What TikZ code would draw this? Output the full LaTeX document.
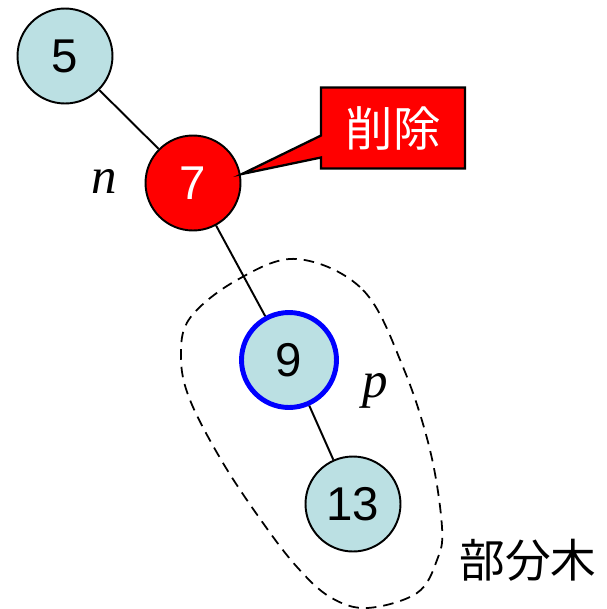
\documentclass[tikz,border=0pt]{standalone}
\usepackage{fontspec}
\setmainfont{Liberation Serif}
\setsansfont{Liberation Sans}
\newfontfamily\jpfont{Noto Sans CJK JP}
\usetikzlibrary{shapes.callouts}
\definecolor{nodeblue}{RGB}{187,224,227}
\tikzset{
  tnode/.style={circle, draw=black, line width=1.1pt, fill=nodeblue,
    minimum size=1.9cm, inner sep=0pt, font=\sffamily\fontsize{27}{30}\selectfont},
  delnode/.style={tnode, fill=red, text=white},
  curnode/.style={tnode, draw=blue, line width=2.8pt},
  edge/.style={line width=1.1pt},
  varlabel/.style={font=\itshape\fontsize{29}{32}\selectfont}
}
\begin{document}
\begin{tikzpicture}[x=0.02cm, y=-0.02cm]
  \useasboundingbox (0,0) rectangle (606,609);
  % tree nodes
  \node[tnode] (n5) at (65,56) {5};
  \node[delnode] (n7) at (193,183) {7};
  \node[curnode] (n9) at (289,360) {9};
  \node[tnode] (n13) at (353,504) {13};
  \draw[edge] (n5) -- (n7);
  \draw[edge] (n7) -- (n9);
  \draw[edge] (n9) -- (n13);
  % labels
  \node[varlabel] (lbln) at (104,181) {n};
  \node[varlabel] (lblp) at (375,391) {p};
  % callout
  \coordinate (tip) at (242,174);
  \node[rectangle callout, draw=black, line width=1.3pt, fill=red, text=white,
    minimum width=2.88cm, minimum height=1.62cm, inner sep=0pt,
    callout absolute pointer={(tip)}, callout pointer width=0.44cm,
    font=\jpfont\fontsize{27}{30}\selectfont] (del) at (393,128) {削除};
  % subtree outline
  \draw[line width=1pt, dash pattern=on 6pt off 4pt]
    plot[smooth cycle, tension=0.6] coordinates {
      (297,259) (363,290) (403,367) (430,450) (442,527) (437,560)
      (417,593) (367,608) (330,597) (297,567) (263,523) (223,463)
      (190,400) (181,357) (190,318) (237,280)};
  \node[font=\jpfont\fontsize{26}{30}\selectfont] (sub) at (528,560) {部分木};
\end{tikzpicture}
\end{document}
